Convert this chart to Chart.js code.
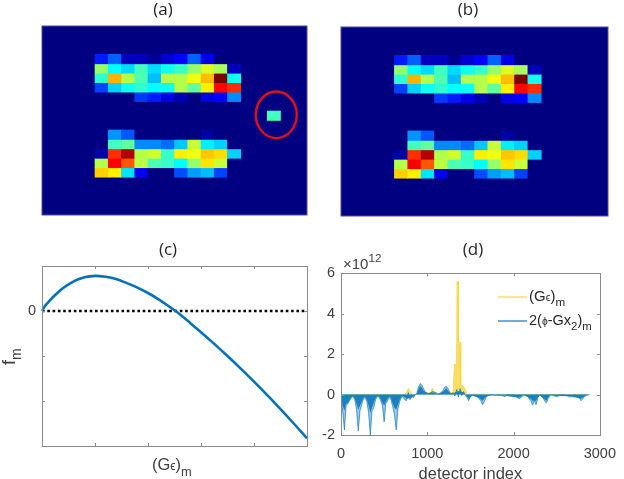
<!DOCTYPE html>
<html><head><meta charset="utf-8">
<script src="https://cdn.jsdelivr.net/npm/chart.js@4"></script>
<style>
html,body{margin:0;padding:0;background:#fff;width:624px;height:479px;overflow:hidden}
canvas{position:absolute;filter:blur(0.45px)}
</style></head><body>
<canvas id="a" style="left:0;top:0"></canvas>
<canvas id="b" style="left:320px;top:0"></canvas>
<canvas id="c" style="left:0;top:225px"></canvas>
<canvas id="d" style="left:320px;top:225px"></canvas>
<script>
// ---- data ----
const heatColumns = [0,1,2,3,4,5,6,7,8,9,10,11,12,13,14,15,16,17,18,19];
const firstCol = 4;
const row3  = [.15,.22,.06,.06,.02,.08,.125,.22,.1,0,0];
const row4  = [.52,.375,.34,.44,.34,.39,.43,.52,.59,.54,.06];
const row5  = [.42,.7,.55,.45,.31,.55,.55,.61,.69,1,.39];
const row6  = [.19,.33,.39,.42,.375,.39,.55,.47,.64,.87,.83];
const row7  = [0,0,0,.18,.15,.1,.05,0,.1,.125,.26];
const row11 = [0,.27,.21,0,0,0,0,0,.03,0,0];
const row12 = [0,.44,.47,.26,.26,.23,.32,.57,.36,.33,0];
const row13 = [.04,.83,.95,.55,.58,.43,.64,.61,.68,.66,.33];
const row14 = [.55,.875,.79,.56,.45,.43,.375,.52,.65,.57,0];
const row15 = [.67,.64,.35,.11,0,0,.2,.28,.31,.19,0];
const heatRows = [[3,row3],[4,row4],[5,row5],[6,row6],[7,row7],[11,row11],[12,row12],[13,row13],[14,row14],[15,row15]];
const outlier = {col:17,row:9,value:.44};

const curveX = [0,.05,.1,.2,.3,.4,.5,.6,.7,.8,.9,1,1.2,1.4,1.6,1.8,2,2.2,2.4,2.6,2.8,3,3.25,3.5,3.75,4,4.25,4.5,4.75,5];
const curveY = [0,.1,.17,.3,.41,.51,.59,.66,.71,.75,.77,.78,.76,.71,.62,.52,.40,.26,.10,-.07,-.27,-.47,-.73,-1.0,-1.28,-1.57,-1.87,-2.18,-2.5,-2.83];
const zeroX = [0,5];
const zeroY = [0,0];

const blueStep = 20;
const blueValues = [
-.05,-.85,-1.75,-.5,-.45,-.3,-.15,-.1,-.25,-.75,-1.8,-.8,-.5,-.2,-.15,-.35,-.9,-2,-.8,-.65,
-.25,-.1,-.12,-.3,-.55,-1.35,-.45,-.3,-.1,-.25,-.6,-1,-1.75,-.7,-.35,-.15,-.1,-.25,-.3,.1,
-.25,-.1,-.15,-.02,.1,.4,.55,.45,.25,.12,.08,.04,.1,.15,.12,.1,.05,.02,.1,.2,
.35,.42,.3,.12,.02,.1,-.08,.25,-.12,.3,-.05,.15,-.03,-.15,-.3,-.08,-.05,-.03,-.08,-.1,
-.2,-.3,-.5,-.35,-.15,-.05,-.03,-.02,-.03,-.05,-.04,-.03,-.03,-.05,-.07,-.1,-.04,0,-.03,-.02,
-.03,-.05,-.12,-.2,-.17,-.08,-.03,-.02,-.06,-.2,-.3,-.52,-.3,-.5,-.15,-.04,-.06,-.15,-.3,-.42,
-.2,-.05,-.02,-.03,-.08,-.1,-.07,-.03,-.02,-.03,-.03,-.05,-.1,-.12,-.06,-.03,-.02,-.04,-.12,-.3,
-.22,-.1,-.04,-.02,0];
const coreIndex  = [0,20,40,60,80,100,120,140,160,180,200,220,240,260,280,300,320,340,360,380,400,420,440,460,480,500,520,540,560,580,600,620,640,660,680,700,720,760,800,840,880,900,920,940,960,1000,1060,1120,1180,1220,1260,1300,1340,1380,1420,1460,1480,1520,1600,1640,1680,1760,1900,2060,2120,2200,2220,2260,2300,2380,2420,2500,2660,2780,2840,2880];
const coreValues = [-.05,-.55,-.8,-.45,-.4,-.25,-.12,-.08,-.2,-.45,-.75,-.55,-.35,-.15,-.12,-.25,-.55,-.9,-.65,-.4,-.18,-.08,-.1,-.22,-.4,-.55,-.35,-.2,-.08,-.2,-.45,-.65,-.75,-.5,-.25,-.1,-.08,-.2,-.18,-.1,.06,.28,.45,.32,.18,.05,.1,.03,.14,.32,.08,.05,.15,.18,.1,-.1,-.2,-.04,-.15,-.32,-.1,-.02,-.06,-.16,-.02,-.22,-.3,-.3,-.03,-.3,-.03,-.07,-.08,-.2,-.03,0];
const yellowIndex  = [0,740,760,780,800,820,840,1040,1060,1080,1100,1300,1315,1340,1345,1358,1362,1382,1388,1420,1445,1460,2880];
const yellowValues = [0,0,.1,.3,.15,.05,0,.1,.3,.15,0,.1,1.5,1.5,5.6,5.6,2.6,2.6,.5,.4,.2,.02,0];
const xTicksD = [0,1000,2000,3000];
const yTicksD = [-2,0,2,4,6];

// ---- helpers ----
const FONT = '"Liberation Sans", Arial, sans-serif';
const TFONT = '"Open Sans", sans-serif';
const AXIS = '#8a8a8a', TXT = '#404040';
const BLUE = '#0072BD', YEL = '#F8D63C';
function lerp(p,pts){for(let i=1;i<pts.length;i++){if(p<=pts[i][0]){const a=pts[i-1],b=pts[i];return a[1]+(b[1]-a[1])*(p-a[0])/(b[0]-a[0]);}}return pts[pts.length-1][1];}
function jet(v){
  const r=lerp(v,[[0,0],[.375,0],[.625,1],[.875,1],[1,.5]]);
  const g=lerp(v,[[0,0],[.125,0],[.375,1],[.625,1],[.875,0],[1,0]]);
  const b=lerp(v,[[0,.5],[.125,1],[.375,1],[.625,0],[1,0]]);
  return `rgb(${Math.round(r*255)},${Math.round(g*255)},${Math.round(b*255)})`;
}
// draws text pieces with sub/superscripts; mode 'small' is a smaller inline glyph
function rich(ctx,x,y,parts,size,color){
  ctx.save();ctx.fillStyle=color;ctx.textAlign='left';ctx.textBaseline='alphabetic';
  let cx=x;
  for(const [t,mode] of parts){
    const s=mode==='small'?size*.72:mode?size*.78:size;
    ctx.font=`${s}px ${FONT}`;
    const dy=mode==='sub'?size*.35:mode==='sup'?-size*.45:0;
    ctx.fillText(t,cx,y+dy);
    cx+=ctx.measureText(t).width;
  }
  ctx.restore();
}
const frame = {id:'frame',
  afterDatasetsDraw(ch){
    const {ctx,chartArea:A,scales:{x,y}}=ch;
    ctx.save();ctx.strokeStyle=AXIS;ctx.lineWidth=1;
    ctx.strokeRect(Math.round(A.left)+.5,Math.round(A.top)+.5,Math.round(A.right-A.left),Math.round(A.bottom-A.top));
    ctx.beginPath();
    for(const t of x.ticks){const p=Math.round(x.getPixelForValue(t.value))+.5;ctx.moveTo(p,A.bottom);ctx.lineTo(p,A.bottom-3);ctx.moveTo(p,A.top);ctx.lineTo(p,A.top+3);}
    for(const t of y.ticks){const p=Math.round(y.getPixelForValue(t.value))+.5;ctx.moveTo(A.left,p);ctx.lineTo(A.left+3,p);ctx.moveTo(A.right,p);ctx.lineTo(A.right-3,p);}
    ctx.stroke();ctx.restore();
  }};
function titleOpt(text,top,bottom){return {display:true,text,color:'#262626',font:{family:TFONT,size:17,weight:'normal'},padding:{top,bottom}};}
function spacer(w){return {position:'right',display:true,grid:{display:false},border:{display:false},ticks:{display:false},afterFit(s){s.width=w;}};}
const noGrid = {display:false,tickLength:0};

function heat(id,W,H,title,padT,padB,L,yw,R,B,withOutlier){
  const cv=document.getElementById(id);cv.width=W;cv.height=H;
  const sets=heatRows.map(([r,vals])=>({
    data:heatColumns.map(c=>(c>=firstCol&&c<firstCol+vals.length)?[r,r+1]:null),
    backgroundColor:heatColumns.map(c=>(c>=firstCol&&c<firstCol+vals.length)?jet(vals[c-firstCol]):'transparent'),
    borderWidth:0,barPercentage:1,categoryPercentage:1,grouped:false}));
  if(withOutlier){
    sets.push({data:heatColumns.map(c=>c===outlier.col?[outlier.row,outlier.row+1]:null),
      backgroundColor:jet(outlier.value),borderWidth:0,barPercentage:1,categoryPercentage:1,grouped:false});
  }
  const plugins=[{id:'bg',beforeDatasetsDraw(ch){const A=ch.chartArea,c=ch.ctx;c.save();c.fillStyle=jet(0);c.fillRect(A.left,A.top,A.right-A.left,A.bottom-A.top);c.strokeStyle='#4c4cae';c.lineWidth=1;c.strokeRect(A.left,A.top,A.right-A.left,A.bottom-A.top);c.restore();}}];
  if(withOutlier) plugins.push({id:'ring',afterDatasetsDraw(ch){
    const {ctx:c,scales:{x,y}}=ch;
    const w=(x.getPixelForValue(1)-x.getPixelForValue(0));
    const cx=x.getPixelForValue(outlier.col)+.18*w, cy=y.getPixelForValue(outlier.row+.4);
    c.save();c.strokeStyle='#e0101a';c.lineWidth=2.4;c.beginPath();c.ellipse(cx,cy,20.5,23.3,0,0,Math.PI*2);c.stroke();c.restore();
  }});
  return new Chart(cv,{type:'bar',data:{labels:heatColumns,datasets:sets},plugins,options:{
    responsive:false,animation:false,layout:{padding:{left:L,right:R,bottom:B,top:0}},
    plugins:{legend:{display:false},tooltip:{enabled:false},title:titleOpt(title,padT,padB)},
    scales:{x:{display:false,offset:true,grid:{display:false}},
      y:{reverse:true,min:0,max:20,grid:{display:false},border:{display:false},ticks:{display:false},afterFit(s){s.width=yw;}}}
  }});
}
heat('a',320,225,'(a)',0,5.6,19,23,13,10,true);
heat('b',304,225,'(b)',0,6.6,8,13,16,9,false);

// panel c
(function(){
  const cv=document.getElementById('c');cv.width=336;cv.height=254;
  new Chart(cv,{type:'scatter',
    data:{datasets:[
      {data:curveX.map((x,i)=>({x,y:curveY[i]})),showLine:true,borderColor:BLUE,borderWidth:2.6,pointRadius:0,cubicInterpolationMode:'monotone',clip:false},
      {data:zeroX.map((x,i)=>({x,y:zeroY[i]})),showLine:true,borderColor:'#000',borderWidth:2.4,borderDash:[2.6,2.7],pointRadius:0}
    ]},
    plugins:[frame,{id:'labels',afterDraw(ch){
      const c=ch.ctx;
      rich(c,152,245,[['(G',null],['ϵ','small'],[')',null],['m','sub']],16.5,TXT);
      c.save();c.translate(14.5,140);c.rotate(-Math.PI/2);rich(c,0,0,[['f',null],['m','sub']],18,TXT);c.restore();
    }}],
    options:{responsive:false,animation:false,
      plugins:{legend:{display:false},tooltip:{enabled:false},title:titleOpt('(c)',15,5.6)},
      scales:{
        x:{type:'linear',min:0,max:5,grid:noGrid,border:{display:false},
           ticks:{stepSize:1,autoSkip:false,callback:()=>''},afterFit(s){s.height=33;}},
        y:{type:'linear',min:-3,max:1,grid:noGrid,border:{display:false},
           ticks:{stepSize:1,autoSkip:false,color:TXT,padding:6,font:{family:FONT,size:14.5},callback:v=>v===0?'0':''},afterFit(s){s.width=42;}},
        yr:spacer(29)
      }}
  });
})();

// panel d
(function(){
  const cv=document.getElementById('d');cv.width=306;cv.height=260;
  new Chart(cv,{type:'scatter',
    data:{datasets:[
      {label:'core',data:coreIndex.map((x,i)=>({x,y:coreValues[i]})),showLine:true,borderWidth:0,borderColor:'transparent',backgroundColor:'#1a80c4',fill:'origin',pointRadius:0},
      {label:'blue',data:blueValues.map((y,i)=>({x:i*blueStep,y})),showLine:true,borderColor:'rgba(0,114,189,.8)',borderWidth:.8,backgroundColor:'rgba(70,150,205,.55)',fill:'origin',pointRadius:0},
      {label:'yellow',data:yellowIndex.map((x,i)=>({x,y:yellowValues[i]})),showLine:true,borderColor:YEL,borderWidth:.8,backgroundColor:'rgba(248,214,60,.8)',fill:'origin',pointRadius:0}
    ]},
    plugins:[frame,{id:'notes',afterDraw(ch){
      const c=ch.ctx;
      rich(c,23,44,[['×10',null],['12','sup']],15,TXT);
      c.save();c.lineWidth=1.2;c.strokeStyle=YEL;c.beginPath();c.moveTo(178,72);c.lineTo(207,72);c.stroke();
      c.lineWidth=1.8;c.strokeStyle='#5aa5d8';c.beginPath();c.moveTo(178,96);c.lineTo(207,96);c.stroke();c.restore();
      rich(c,209,76,[['(G',null],['ϵ','small'],[')',null],['m','sub']],15,'#262626');
      rich(c,209,100,[['2(',null],['ϕ','small'],['-Gx',null],['2','sub'],[')',null],['m','sub']],14.5,'#262626');
    }}],
    options:{responsive:false,animation:false,
      plugins:{legend:{display:false},tooltip:{enabled:false},title:titleOpt('(d)',15,13)},
      scales:{
        x:{type:'linear',min:0,max:3000,grid:noGrid,border:{display:false},afterBuildTicks(s){s.ticks=xTicksD.map(value=>({value}));},
           title:{display:true,text:'detector index',color:TXT,font:{family:FONT,size:16.5},padding:{top:0,bottom:1}},
           ticks:{color:TXT,maxRotation:0,autoSkip:false,padding:10,font:{family:FONT,size:14.5},callback:v=>String(v)},afterFit(s){s.height=50;}},
        y:{type:'linear',min:-2,max:6,grid:noGrid,border:{display:false},afterBuildTicks(s){s.ticks=yTicksD.map(value=>({value}));},
           ticks:{color:TXT,padding:6,font:{family:FONT,size:14.5},callback:v=>String(v)},afterFit(s){s.width=21;}},
        yr:spacer(18)
      }}
  });
})();
</script>
</body></html>
